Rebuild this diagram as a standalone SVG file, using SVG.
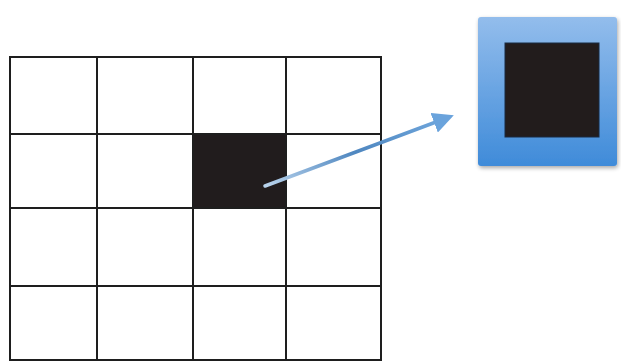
<svg xmlns="http://www.w3.org/2000/svg" width="621" height="362" viewBox="0 0 621 362">
<defs>
<linearGradient id="bg" x1="0" y1="0" x2="0" y2="1">
<stop offset="0" stop-color="#93bdec"/>
<stop offset="1" stop-color="#3f8bd9"/>
</linearGradient>
<linearGradient id="ag" x1="0" y1="1" x2="1" y2="0">
<stop offset="0" stop-color="#b9d3ec"/>
<stop offset="0.5" stop-color="#4f87c0"/>
<stop offset="1" stop-color="#6fa6dc"/>
</linearGradient>
<marker id="ah" markerWidth="6" markerHeight="6" refX="3" refY="3" orient="auto" markerUnits="strokeWidth">
<path d="M0,0 L6,3 L0,6 z" fill="#6aa3dc"/>
</marker>
<filter id="sh" x="-10%" y="-10%" width="125%" height="125%">
<feGaussianBlur in="SourceAlpha" stdDeviation="2"/>
<feOffset dx="1" dy="2"/>
<feComponentTransfer><feFuncA type="linear" slope="0.35"/></feComponentTransfer>
<feMerge><feMergeNode/><feMergeNode in="SourceGraphic"/></feMerge>
</filter>
<style>
.g{stroke:#1e1e1e;stroke-width:2;fill:none}
</style>
</defs>
<rect width="621" height="362" fill="#ffffff"/>
<g id="grid">
<rect x="193" y="134" width="93" height="74" fill="#211c1d"/>
<rect class="g" x="10" y="57" width="371" height="303"/>
<line class="g" x1="97" y1="57" x2="97" y2="360"/>
<line class="g" x1="193" y1="57" x2="193" y2="360"/>
<line class="g" x1="286" y1="57" x2="286" y2="360"/>
<line class="g" x1="10" y1="134" x2="381" y2="134"/>
<line class="g" x1="10" y1="208" x2="381" y2="208"/>
<line class="g" x1="10" y1="286" x2="381" y2="286"/>
</g>
<g id="connectors">
<line x1="265" y1="186" x2="444" y2="119" stroke="url(#ag)" stroke-width="3.5" stroke-linecap="round" marker-end="url(#ah)"/>
</g>
<g id="zoomed" filter="url(#sh)">
<rect x="478" y="17" width="139" height="149" rx="3" fill="url(#bg)"/>
<rect x="505" y="43" width="94" height="94" fill="#221c1f" stroke="#1a2a40" stroke-width="1"/>
</g>
</svg>
